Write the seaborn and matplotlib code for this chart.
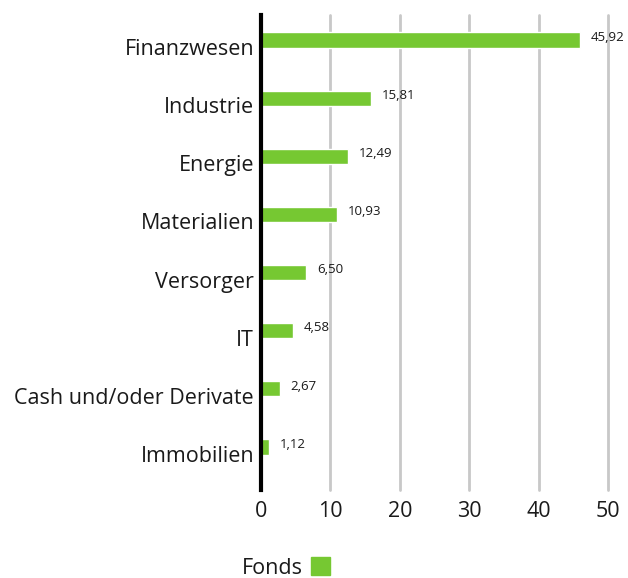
import matplotlib
matplotlib.use("Agg")
import matplotlib.pyplot as plt
import matplotlib.transforms as mtransforms
import seaborn as sns
import pandas as pd
from matplotlib.patches import Patch

categories = ["Finanzwesen", "Industrie", "Energie", "Materialien", "Versorger",
              "IT", "Cash und/oder Derivate", "Immobilien"]
values = [45.92, 15.81, 12.49, 10.93, 6.50, 4.58, 2.67, 1.12]
value_labels = ["45,92", "15,81", "12,49", "10,93", "6,50", "4,58", "2,67", "1,12"]
series_name = "Fonds"
xticks = [0, 10, 20, 30, 40, 50]

sns.set_theme(style="white")
plt.rcParams["font.family"] = ["Open Sans", "DejaVu Sans"]

df = pd.DataFrame({"Sektor": categories, "Wert": values, "Serie": series_name})

fig = plt.figure(figsize=(6.28, 5.78), dpi=100)
ax = fig.add_axes([261 / 628, 1 - 490 / 578, (608 - 261) / 628, (490 - 15) / 578])

green = "#76c832"
txtc = "#1a1a1a"
sns.barplot(data=df, x="Wert", y="Sektor", hue="Serie", palette=[green],
            width=0.26, ax=ax, legend=False, saturation=1, zorder=3)

ax.set_xlim(0, 50)
ax.set_ylim(7.74, -0.43)
ax.set_xticks(xticks)
ax.set_xticklabels([str(t) for t in xticks], fontsize=15.5, color=txtc)
ax.set_xlabel("")
ax.set_ylabel("")
ax.tick_params(axis="y", length=0, pad=5, labelsize=15.5, labelcolor=txtc)
ax.tick_params(axis="x", length=0, pad=8)

# shift category labels slightly down
offset = mtransforms.ScaledTranslation(0, -5 / 72, fig.dpi_scale_trans)
for lab in ax.get_yticklabels():
    lab.set_transform(lab.get_transform() + offset)

for x in xticks[1:]:
    ax.axvline(x, color="#c8c8c8", lw=2, zorder=1, clip_on=False)

for s in ["top", "right", "bottom"]:
    ax.spines[s].set_visible(False)
ax.spines["left"].set_color("black")
ax.spines["left"].set_linewidth(3)
ax.spines["left"].set_zorder(5)

for i, (v, t) in enumerate(zip(values, value_labels)):
    ax.annotate(t, xy=(v, i), xytext=(8, 2), textcoords="offset points",
                ha="left", va="center", fontsize=9.5, color=txtc)

leg = fig.legend(handles=[Patch(color=green, label=series_name)], loc="center",
                 bbox_to_anchor=(286 / 628, 1 - 568 / 578), frameon=False,
                 markerfirst=False, fontsize=15.5, handlelength=0.9, handleheight=0.9,
                 handletextpad=0.4)
for txt in leg.get_texts():
    txt.set_color(txtc)

fig.savefig("out.png", dpi=100)
